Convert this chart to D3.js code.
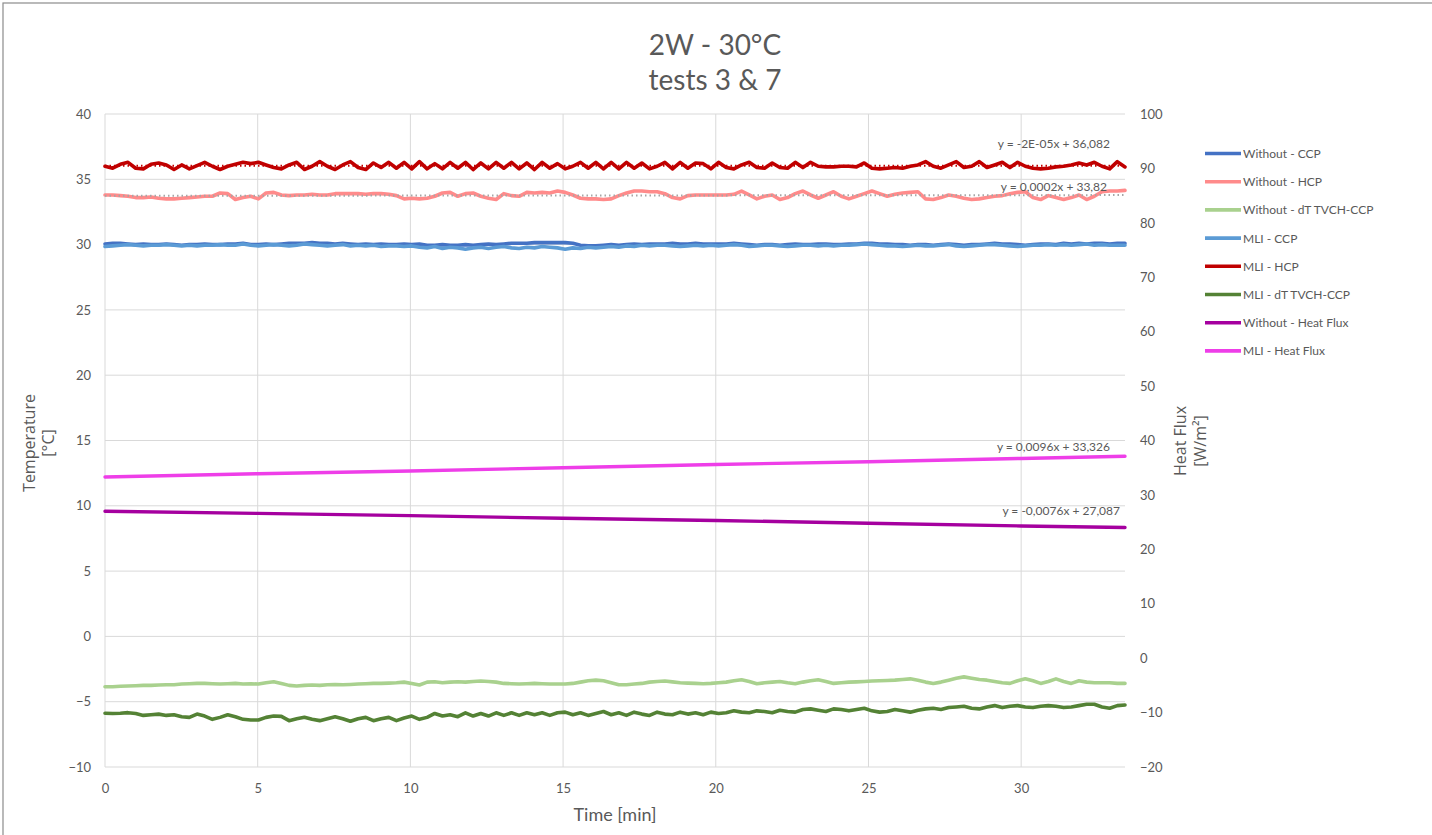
<!DOCTYPE html>
<html><head><meta charset="utf-8">
<script src="https://cdn.jsdelivr.net/npm/d3@7"></script>
<style>
body{margin:0;background:#fff}
svg{display:block}
text{font-family:Lato,"Open Sans",sans-serif;fill:#595959}
</style>
</head><body>
<svg id="chart" width="1432" height="835"></svg>
<script>
// ---------------- DATA ----------------
const titleLines = ["2W - 30°C", "tests 3 & 7"];
const xLabel = "Time [min]";
const yLeftLabel = ["Temperature", "[°C]"];
const yRightLabel = ["Heat Flux", "[W/m²]"];
const xTicks = [0, 5, 10, 15, 20, 25, 30];
const yLeftTicks = [-10, -5, 0, 5, 10, 15, 20, 25, 30, 35, 40];
const yRightTicks = [-20, -10, 0, 10, 20, 30, 40, 50, 60, 70, 80, 90, 100];
const timeEnd = 33.4;

const seriesNames = ["Without - CCP", "Without - HCP", "Without - dT TVCH-CCP", "MLI - CCP", "MLI - HCP", "MLI - dT TVCH-CCP", "Without - Heat Flux", "MLI - Heat Flux"];
const seriesColors = ["#4472c4", "#ff8b8b", "#a9d18e", "#5b9bd5", "#c00000", "#548235", "#a5009f", "#ee3ee8"];

const withoutCCP = [30.05,30.1,30.1,30.05,30.0,30.05,30.0,30.0,30.05,30.0,29.95,30.0,30.0,30.05,30.0,30.0,30.05,30.05,30.1,30.0,
30.0,30.05,30.0,30.05,30.1,30.1,30.1,30.15,30.1,30.1,30.05,30.1,30.05,30.0,30.05,30.0,30.05,30.0,30.0,30.05,
30.0,30.05,29.95,29.95,30.0,29.95,29.95,30.0,29.95,30.0,30.05,30.0,30.05,30.1,30.1,30.1,30.15,30.15,30.15,30.15,
30.15,30.1,29.95,29.9,29.9,29.95,30.0,29.95,30.0,30.05,30.0,30.05,30.05,30.05,30.1,30.05,30.05,30.1,30.05,30.05,
30.05,30.05,30.1,30.05,30.0,29.95,30.0,30.0,29.95,30.0,30.05,30.0,30.0,30.05,30.05,30.0,30.0,30.05,30.05,30.1,
30.1,30.05,30.05,30.0,30.0,29.95,30.0,30.0,29.95,30.0,30.05,30.0,29.95,30.0,30.0,30.05,30.1,30.05,30.05,30.0,
29.95,30.0,30.05,30.05,30.0,30.1,30.05,30.1,30.05,30.1,30.1,30.05,30.1,30.1];

const withoutHCP = [33.8,33.8,33.75,33.7,33.6,33.6,33.65,33.55,33.5,33.5,33.55,33.6,33.65,33.7,33.7,33.95,33.9,33.45,33.6,33.7,
33.5,33.95,34.0,33.8,33.75,33.8,33.8,33.85,33.8,33.8,33.9,33.9,33.9,33.9,33.85,33.9,33.9,33.85,33.75,33.5,
33.55,33.5,33.55,33.7,33.95,34.0,33.7,33.9,33.95,33.7,33.55,33.45,33.9,33.75,33.7,34.0,33.95,34.0,33.95,34.1,
34.0,33.8,33.55,33.5,33.5,33.45,33.5,33.75,33.95,34.1,34.1,34.05,34.05,33.9,33.6,33.5,33.75,33.8,33.8,33.8,
33.8,33.8,33.85,34.1,33.8,33.5,33.7,33.8,33.45,33.6,33.9,34.1,33.8,33.55,33.8,34.05,33.7,33.5,33.7,33.9,
34.1,33.9,33.7,33.85,33.95,34.0,34.05,33.5,33.45,33.6,33.8,33.7,33.55,33.45,33.5,33.6,33.7,33.75,33.9,34.0,
34.05,33.6,33.45,33.75,33.6,33.45,33.6,33.8,33.45,33.7,34.05,34.1,34.1,34.15];

const withoutDT = [-3.85,-3.85,-3.82,-3.8,-3.78,-3.75,-3.75,-3.72,-3.7,-3.7,-3.65,-3.62,-3.6,-3.6,-3.62,-3.65,-3.62,-3.6,-3.65,-3.62,
-3.65,-3.55,-3.47,-3.6,-3.75,-3.8,-3.75,-3.72,-3.75,-3.7,-3.68,-3.7,-3.68,-3.65,-3.62,-3.6,-3.6,-3.58,-3.55,-3.5,
-3.6,-3.72,-3.5,-3.47,-3.55,-3.5,-3.47,-3.5,-3.45,-3.42,-3.45,-3.5,-3.6,-3.62,-3.65,-3.62,-3.6,-3.62,-3.65,-3.65,
-3.65,-3.6,-3.5,-3.4,-3.35,-3.4,-3.55,-3.7,-3.7,-3.65,-3.6,-3.5,-3.45,-3.42,-3.48,-3.55,-3.58,-3.6,-3.62,-3.6,
-3.55,-3.5,-3.4,-3.32,-3.45,-3.62,-3.55,-3.5,-3.45,-3.55,-3.62,-3.5,-3.4,-3.32,-3.45,-3.6,-3.55,-3.5,-3.48,-3.45,
-3.42,-3.4,-3.38,-3.35,-3.3,-3.25,-3.35,-3.5,-3.6,-3.5,-3.35,-3.2,-3.1,-3.2,-3.3,-3.35,-3.45,-3.55,-3.6,-3.4,
-3.25,-3.4,-3.6,-3.45,-3.25,-3.45,-3.6,-3.4,-3.5,-3.55,-3.55,-3.55,-3.6,-3.6];

const mliCCP = [29.85,29.9,29.95,30.0,29.95,29.9,29.95,29.95,30.0,29.95,29.9,29.95,29.9,29.95,29.95,30.0,29.95,29.95,30.05,29.95,
29.9,29.95,30.0,29.95,29.9,29.95,30.05,30.0,29.95,29.9,29.95,30.0,29.9,29.95,29.9,29.95,29.85,29.9,29.9,29.85,
29.9,29.8,29.75,29.85,29.7,29.8,29.75,29.65,29.75,29.8,29.7,29.8,29.85,29.75,29.7,29.8,29.75,29.85,29.8,29.75,
29.65,29.75,29.7,29.8,29.75,29.8,29.85,29.8,29.9,29.85,29.95,29.9,29.95,29.95,29.9,29.85,29.9,29.95,29.9,29.95,
29.9,29.95,30.0,29.95,29.85,29.9,29.95,29.95,29.9,29.85,29.9,29.95,29.95,29.9,29.95,29.9,29.95,29.95,30.0,30.05,
30.0,29.95,29.9,29.9,29.85,29.9,29.95,29.9,29.9,29.95,30.0,29.9,29.85,29.9,29.95,30.0,30.0,29.95,29.9,29.85,
29.9,29.95,29.95,30.0,29.95,30.0,29.95,30.0,30.05,29.95,30.0,29.95,29.95,29.95];

const mliHCP = [36.0,35.85,36.15,36.3,35.85,35.8,36.15,36.25,36.1,35.75,36.1,35.8,36.05,36.3,36.0,35.75,36.0,36.15,36.3,36.2,
36.3,36.1,35.9,35.8,36.1,36.3,35.75,36.0,36.35,36.0,35.75,36.1,36.35,35.9,35.75,36.25,35.9,36.3,35.85,36.3,
35.8,36.35,35.8,36.2,35.8,36.3,35.85,36.3,35.75,36.25,35.8,36.3,35.85,36.3,35.8,36.25,35.75,36.3,35.85,36.2,
35.8,36.0,36.3,35.85,36.3,35.8,36.3,35.8,36.3,35.85,36.25,35.8,36.0,36.3,35.8,36.3,35.85,36.25,36.2,35.8,
36.3,35.9,35.8,36.1,36.3,35.9,35.85,36.25,35.9,35.85,36.3,35.9,36.3,36.0,35.95,35.95,36.0,36.0,35.95,36.25,
35.85,35.8,35.85,35.9,35.85,36.0,36.1,36.35,36.0,35.85,36.1,36.35,35.9,36.0,36.35,35.9,36.1,36.3,35.9,36.3,
36.0,35.85,35.8,35.85,35.95,36.0,36.1,36.25,36.1,36.3,36.0,35.8,36.35,35.95];

const mliDT = [-5.89,-5.9,-5.88,-5.84,-5.9,-6.05,-6.0,-5.95,-6.05,-6.0,-6.15,-6.2,-5.95,-6.1,-6.35,-6.2,-6.0,-6.15,-6.35,-6.4,
-6.4,-6.2,-6.1,-6.12,-6.45,-6.3,-6.19,-6.35,-6.45,-6.3,-6.15,-6.3,-6.5,-6.3,-6.2,-6.45,-6.3,-6.2,-6.45,-6.25,
-6.1,-6.35,-6.2,-5.9,-6.1,-6.0,-6.15,-5.85,-6.1,-5.9,-6.1,-5.85,-6.05,-5.85,-6.05,-5.85,-6.0,-5.85,-6.05,-5.85,
-5.8,-6.0,-5.85,-6.05,-5.9,-5.75,-6.0,-5.85,-6.05,-5.8,-5.95,-6.05,-5.8,-5.95,-6.0,-5.8,-5.95,-5.85,-6.0,-5.8,
-5.9,-5.85,-5.7,-5.8,-5.85,-5.7,-5.75,-5.85,-5.65,-5.75,-5.8,-5.6,-5.55,-5.65,-5.75,-5.55,-5.6,-5.7,-5.6,-5.5,
-5.7,-5.8,-5.75,-5.6,-5.7,-5.8,-5.65,-5.55,-5.5,-5.6,-5.45,-5.4,-5.35,-5.5,-5.55,-5.4,-5.3,-5.45,-5.35,-5.3,
-5.4,-5.45,-5.35,-5.3,-5.35,-5.45,-5.4,-5.3,-5.2,-5.2,-5.4,-5.5,-5.3,-5.25];

const hfTime = [0, 5, 10, 15, 20, 25, 30, 33.4];
const withoutHF = [27.0, 26.6, 26.2, 25.7, 25.3, 24.8, 24.3, 24.0];
const mliHF = [33.3, 33.9, 34.4, 35.0, 35.6, 36.1, 36.7, 37.1];

const trendLabels = ["y = -2E-05x + 36,082", "y = 0,0002x + 33,82", "y = 0,0096x + 33,326", "y = -0,0076x + 27,087"];

// ---------------- LAYOUT ----------------
const W = 1432, H = 835;
const plot = {left: 105, right: 1125, top: 114, bottom: 767};
const svg = d3.select("#chart");

const x = d3.scaleLinear().domain([0, timeEnd]).range([plot.left, plot.right]);
const yL = d3.scaleLinear().domain([-10, 40]).range([plot.bottom, plot.top]);
const yR = d3.scaleLinear().domain([-20, 100]).range([plot.bottom, plot.top]);

// outer border
svg.append("rect").attr("x", 3).attr("y", 3).attr("width", W + 10).attr("height", H + 10)
  .attr("fill", "#fff").attr("stroke", "#8c8c8c").attr("stroke-width", 1.2);

// title
svg.selectAll("text.title").data(titleLines).join("text")
  .attr("class", "title").attr("x", 715).attr("y", (d, i) => 55 + i * 35)
  .attr("text-anchor", "middle").style("font-size", "28px").text(d => d);

// gridlines
const grid = svg.append("g");
grid.selectAll("line.h").data(yLeftTicks).join("line")
  .attr("x1", plot.left).attr("x2", plot.right)
  .attr("y1", d => yL(d)).attr("y2", d => yL(d))
  .attr("stroke", "#d9d9d9").attr("stroke-width", 1);
grid.selectAll("line.v").data(xTicks).join("line")
  .attr("y1", plot.top).attr("y2", plot.bottom)
  .attr("x1", d => x(d)).attr("x2", d => x(d))
  .attr("stroke", "#d9d9d9").attr("stroke-width", 1);

// axes (labels only)
const axB = svg.append("g").attr("transform", `translate(0,${plot.bottom})`)
  .call(d3.axisBottom(x).tickValues(xTicks).tickSize(0).tickPadding(17));
const axL = svg.append("g").attr("transform", `translate(${plot.left},0)`)
  .call(d3.axisLeft(yL).tickValues(yLeftTicks).tickSize(0).tickPadding(14));
const axR = svg.append("g").attr("transform", `translate(${plot.right},0)`)
  .call(d3.axisRight(yR).tickValues(yRightTicks).tickSize(0).tickPadding(15));
[axB, axL, axR].forEach(a => {
  a.select(".domain").remove();
  a.selectAll("text").style("font-size", "13px").style("font-family", "Lato, sans-serif").attr("fill", "#595959");
});

// axis titles
svg.append("text").attr("x", 615).attr("y", 821).attr("text-anchor", "middle")
  .style("font-size", "18px").text(xLabel);
yLeftLabel.forEach((t, i) => {
  svg.append("text").attr("transform", `translate(${35 + i * 19},443) rotate(-90)`)
    .attr("text-anchor", "middle").style("font-size", "16px").style("font-family", "'Open Sans',sans-serif").text(t);
});
yRightLabel.forEach((t, i) => {
  svg.append("text").attr("transform", `translate(${1186 + i * 20},441) rotate(-90)`)
    .attr("text-anchor", "middle").style("font-size", "16px").style("font-family", "'Open Sans',sans-serif").text(t);
});

// temperature series
const N = withoutCCP.length;
const times = d3.range(N).map(i => i * timeEnd / (N - 1));
const tempSeries = [withoutCCP, withoutHCP, withoutDT, mliCCP, mliHCP, mliDT];
const lineL = d3.line().x((d, i) => x(times[i])).y(d => yL(d));
const lineR = d3.line().x((d, i) => x(hfTime[i])).y(d => yR(d));

// least-squares fit from data (trendlines)
function fit(vals) {
  const mx = d3.mean(times), my = d3.mean(vals);
  let num = 0, den = 0;
  vals.forEach((v, i) => { num += (times[i] - mx) * (v - my); den += (times[i] - mx) ** 2; });
  const b = num / den;
  return [[0, my - b * mx], [timeEnd, my + b * (timeEnd - mx)]];
}

[0, 1, 2, 3, 4, 5].forEach(k => {
  svg.append("path").datum(tempSeries[k]).attr("d", lineL)
    .attr("fill", "none").attr("stroke", seriesColors[k]).attr("stroke-width", 3.6)
    .attr("stroke-linejoin", "round").attr("stroke-linecap", "round");
});

// trendlines (dotted)
const trendDefs = [{s: mliHCP, c: "#c00000"}, {s: withoutHCP, c: "#a6a6a6"}];
trendDefs.forEach(t => {
  const p = fit(t.s);
  svg.append("line").attr("x1", x(p[0][0])).attr("y1", yL(p[0][1]))
    .attr("x2", x(p[1][0])).attr("y2", yL(p[1][1]))
    .attr("stroke", t.c).attr("stroke-width", 2).attr("stroke-dasharray", "1.5,3");
});

// heat flux series
[[withoutHF, 6], [mliHF, 7]].forEach(([vals, k]) => {
  svg.append("path").datum(vals).attr("d", lineR)
    .attr("fill", "none").attr("stroke", seriesColors[k]).attr("stroke-width", 3.4)
    .attr("stroke-linecap", "round");
});

// trend labels
const labelAnchors = [
  {y: () => yL(fit(mliHCP)[1][1]) - 18, dx: -15},
  {y: () => yL(fit(withoutHCP)[1][1]) - 4, dx: -18},
  {y: () => yR(mliHF[mliHF.length - 1]) - 5, dx: -15},
  {y: () => yR(withoutHF[withoutHF.length - 1]) - 13, dx: -5}
];
trendLabels.forEach((t, i) => {
  svg.append("text").attr("x", x(timeEnd) + labelAnchors[i].dx).attr("y", labelAnchors[i].y())
    .attr("text-anchor", "end").style("font-size", "12px").text(t);
});

// legend
const lg = svg.append("g");
seriesNames.forEach((n, i) => {
  const yy = 153.5 + i * 28.2;
  lg.append("line").attr("x1", 1205).attr("x2", 1241).attr("y1", yy).attr("y2", yy)
    .attr("stroke", seriesColors[i]).attr("stroke-width", 3.6);
  lg.append("text").attr("x", 1243).attr("y", yy + 4.5).style("font-size", "12px").text(n);
});
</script>
</body></html>
